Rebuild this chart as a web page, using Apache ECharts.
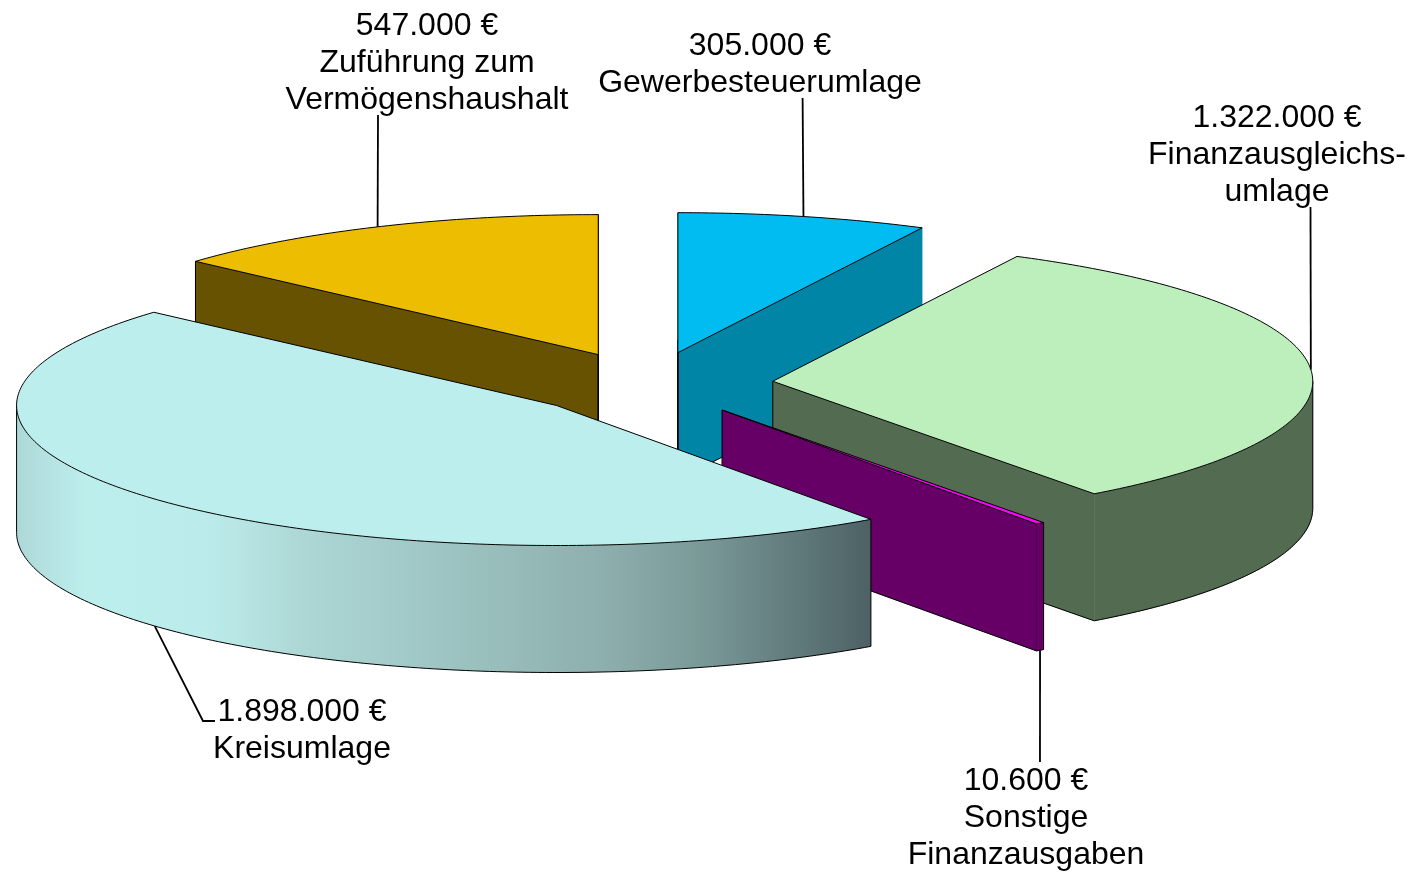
<!DOCTYPE html>
<html>
<head>
<meta charset="utf-8">
<title>Ausgaben</title>
<style>
  html, body { margin: 0; padding: 0; background: #fff; }
  #main { width: 1423px; height: 874px; }
</style>
</head>
<body>
<div id="main"></div>
<script src="https://cdn.jsdelivr.net/npm/echarts@6/dist/echarts.min.js"></script>
<script>
// slices clockwise, starting at 12 o'clock
const categories = ['Gewerbesteuerumlage', 'Finanzausgleichs-\numlage', 'Sonstige\nFinanzausgaben', 'Kreisumlage', 'Zuführung zum\nVermögenshaushalt'];
const values = [305000, 1322000, 10600, 1898000, 547000];

const topColors = ['#00bcf0', '#bdefbd', '#ff00ff', '#bdeeee', '#ecbd00'];
const sideColors = ['#0085a6', '#536b50', '#660066', null, '#665200'];
// the Kreisumlage wall is shaded from left to right
const shadeStops = [
  [0, '#add8d8'], [0.08, '#bceeec'], [0.22, '#bbeceb'], [0.27, '#b6e4e2'], [0.33, '#add8d6'], [0.47, '#a0c8c6'],
  [0.68, '#8eb0ae'], [0.8, '#7a9a98'], [1, '#4d6165']
];
const drawOrder = [4, 0, 1, 2, 3]; // painter's order, back to front
const rimEdge = [false, false, true, false, true]; // black line where the cut face meets the rim

// label centre and first line y, then where the leader stops
const labelPos = [[760, 44], [1277, 116], [1026, 779], [302, 710], [427, 24]];
const leaderEnds = [
  [[802.6, 98]],
  [[1310.5, 207]],
  [[1040, 762]],
  [[203, 721], [215, 721]],
  [[378, 115]]
];

// pie geometry
const cx = 649, cy = 384, rx = 540, ry = 140, depth = 127, explode = 0.23;

const total = values.reduce(function (a, b) { return a + b; }, 0);
const starts = [];
values.reduce(function (sum, v, i) { starts[i] = sum / total * Math.PI * 2; return sum + v; }, 0);

function pt(c, a) {
  return [c[0] + rx * Math.sin(a), c[1] - ry * Math.cos(a)];
}
function down(p) {
  return [p[0], p[1] + depth];
}
function arc(c, a0, a1) {
  const n = Math.max(2, Math.ceil((a1 - a0) / 0.015));
  const pts = [];
  for (let i = 0; i <= n; i++) pts.push(pt(c, a0 + (a1 - a0) * i / n));
  return pts;
}
function fmt(v) {
  return String(v).replace(/\B(?=(\d{3})+$)/g, '.') + ' €';
}
function fillPoly(points, fill, z2) {
  return {
    type: 'polygon',
    z2: z2,
    shape: { points: points },
    style: { fill: fill, stroke: typeof fill === 'string' ? fill : null, lineWidth: 0.5 }
  };
}
function edge(points, z2, width) {
  return {
    type: 'polyline',
    z2: z2,
    shape: { points: points },
    style: { fill: null, stroke: '#000', lineWidth: width || 1 }
  };
}

function renderItem(params, api) {
  const i = params.dataIndex;
  const a0 = starts[i];
  const a1 = a0 + api.value(0) / total * Math.PI * 2;
  const mid = (a0 + a1) / 2;
  const c = [
    cx + explode * rx * Math.sin(mid),
    cy - explode * ry * Math.cos(mid)
  ];
  const z = drawOrder.indexOf(i) * 10;
  const side = sideColors[i] || new echarts.graphic.LinearGradient(0, 0, 1, 0,
    shadeStops.map(function (s) { return { offset: s[0], color: s[1] }; }));
  const children = [];

  // cut faces, only those turned to the viewer
  [[a0, -1], [a1, 1]].forEach(function (f) {
    if (f[1] * Math.sin(f[0]) < -1e-6) return;
    const p = pt(c, f[0]);
    children.push(fillPoly([c, p, down(p), down(c)], sideColors[i], z + 1));
    children.push(edge([down(p), down(c), c], z + 2));
    if (rimEdge[i]) children.push(edge([p, down(p)], z + 2));
  });
  // outer wall, only the part turned to the viewer
  const w0 = Math.max(a0, Math.PI / 2), w1 = Math.min(a1, Math.PI * 1.5);
  if (w1 > w0) {
    const rim = arc(c, w0, w1);
    children.push(fillPoly(rim.concat(rim.map(down).reverse()), side, z + 3));
    children.push(edge([rim[0]].concat(rim.map(down)), z + 4));
    if (w1 < a1) children.push(edge([rim[rim.length - 1], down(rim[rim.length - 1])], z + 4));
  }
  // top
  children.push({
    type: 'polygon',
    z2: z + 5,
    shape: { points: [c].concat(arc(c, a0, a1)) },
    style: { fill: topColors[i], stroke: '#000', lineWidth: 1, lineJoin: 'round' }
  });

  // leader, starts on the rim at the middle of the slice
  const front = Math.cos(mid) < 0;
  const anchor = front ? down(pt(c, mid)) : pt(c, mid);
  children.push(edge([anchor].concat(leaderEnds[i]), 100, 1.8));

  children.push({
    type: 'text',
    z2: 101,
    x: labelPos[i][0],
    y: labelPos[i][1] - 16,
    style: {
      text: fmt(api.value(0)) + '\n' + categories[i],
      fill: '#000',
      font: '32px "Liberation Sans", Arial, sans-serif',
      lineHeight: 37,
      align: 'center',
      verticalAlign: 'top'
    }
  });
  return { type: 'group', children: children };
}

const chart = echarts.init(document.getElementById('main'));
chart.setOption({
  animation: false,
  backgroundColor: '#fff',
  series: [{
    type: 'custom',
    coordinateSystem: 'none',
    silent: true,
    renderItem: renderItem,
    data: values.map(function (v) { return [v]; })
  }]
});
</script>
</body>
</html>
